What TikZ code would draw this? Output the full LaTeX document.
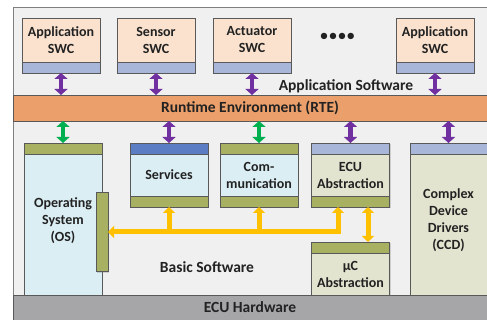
\documentclass[tikz,border=0pt]{standalone}
\usepackage{fontspec}
\setmainfont{Carlito}
\usepackage{tikz}
\usetikzlibrary{positioning,arrows.meta,shadows}
\definecolor{framebg}{HTML}{F0F0F0}
\definecolor{framegray}{HTML}{7F7F7F}
\definecolor{edge}{HTML}{595959}
\definecolor{txt}{HTML}{222222}
\definecolor{peach}{HTML}{FAE2CF}
\definecolor{swcblue}{HTML}{A8B6DA}
\definecolor{servblue}{HTML}{5B7DC4}
\definecolor{purp}{HTML}{7030A0}
\definecolor{rteorange}{HTML}{EBA06B}
\definecolor{grn}{HTML}{00B050}
\definecolor{lightblue}{HTML}{DBEEF4}
\definecolor{olive}{HTML}{A8B062}
\definecolor{lightolive}{HTML}{E3E4CF}
\definecolor{yel}{HTML}{FFC000}
\definecolor{hwgray}{HTML}{A6A6A9}
\tikzset{
lbl/.style={font=\bfseries\fontsize{14}{17}\selectfont,text=txt,align=center},
layerlbl/.style={font=\bfseries\fontsize{15.5}{18}\selectfont,text=txt,align=center},
box/.style={draw=edge,line width=0.6pt,outer sep=0pt,inner sep=1pt,lbl,drop shadow={shadow xshift=1.2pt,shadow yshift=-1.2pt,opacity=0.3}},
swcbox/.style={box,fill=peach,minimum width=78pt,minimum height=44pt},
swcbar/.style={box,fill=swcblue,minimum width=78pt,minimum height=11pt},
servbar/.style={box,fill=servblue,minimum width=78pt,minimum height=11pt},
olivebar/.style={box,fill=olive,minimum width=78pt,minimum height=11pt},
bswbody/.style={box,fill=lightblue,minimum width=78pt,minimum height=42pt},
ecubody/.style={box,fill=lightolive,minimum width=78pt,minimum height=42pt},
layerbar/.style={draw=edge,line width=0.6pt,outer sep=0pt,layerlbl,minimum width=474pt},
purparrow/.style={draw=purp,line width=4.5pt,{Triangle[length=6pt,width=13pt]}-{Triangle[length=6pt,width=13pt]}},
grnarrow/.style={purparrow,draw=grn},
yelarrow/.style={draw=yel,line width=5pt,-{Triangle[length=6pt,width=12pt]}}
}
\begin{document}
\begin{tikzpicture}[x=1pt,y=-1pt]
\useasboundingbox (0,0) rectangle (487,320);
\fill[framebg] (13,7) rectangle (487,295);
\draw[framegray,line width=0.8pt] (487,7) -- (13,7) -- (13,320);
% layers
\node[layerbar,fill=rteorange,minimum height=26pt] (rte) at (250,108) {Runtime Environment (RTE)};
\node[layerbar,fill=hwgray,minimum height=25pt] (hw) at (250,307.5) {ECU Hardware};
% application software
\foreach \n/\x/\t in {1/61/Application,2/156/Sensor,3/252/Actuator,4/435/Application}{
\node[swcbox] (swc\n) at (\x,40) {\t\\SWC};
\node[swcbar,below=0pt of swc\n] (swcbar\n) {};
\draw[purparrow] (swcbar\n.south) -- (swcbar\n.south |- rte.north);
}
\node[lbl,font=\fontsize{18}{18}\selectfont] (dots) at (337.5,37) {••••};
\node[layerlbl] (appsw) at (346,86) {Application Software};
% basic software
\node[olivebar] (ostop) at (63,148.5) {};
\node[bswbody,below=0pt of ostop,minimum height=141pt,text depth=10pt] (os) {Operating\\System\\(OS)};
\node[olivebar,minimum width=12pt,minimum height=79pt] (osbar) at (102,232) {};
\node[servbar] (servtop) at (169,148.5) {};
\node[bswbody,below=0pt of servtop] (serv) {Services};
\node[olivebar,below=0pt of serv] (servbot) {};
\node[olivebar] (comtop) at (259,148.5) {};
\node[bswbody,below=0pt of comtop] (com) {Com-\\munication};
\node[olivebar,below=0pt of com] (combot) {};
\node[swcbar] (ecutop) at (350.5,148.5) {};
\node[ecubody,below=0pt of ecutop] (ecu) {ECU\\Abstraction};
\node[olivebar,below=0pt of ecu] (ecubot) {};
\node[swcbar,minimum width=77pt] (ccdtop) at (448.5,148.5) {};
\node[ecubody,minimum width=77pt,minimum height=141pt,below=0pt of ccdtop,text depth=10pt] (ccd) {Complex\\Device\\Drivers\\(CCD)};
\node[olivebar] (muctop) at (350.5,247.5) {};
\node[ecubody,below=0pt of muctop] (muc) {µC\\Abstraction};
\node[layerlbl] (bsw) at (207,267) {Basic Software};
% rte links
\foreach \b/\s in {ostop/grnarrow,servtop/purparrow,comtop/grnarrow,ecutop/purparrow,ccdtop/purparrow}
\draw[\s] (rte.south -| \b.north) -- (\b.north);
% internal links
\draw[yelarrow,{Triangle[length=6pt,width=12pt]}-{Triangle[length=6pt,width=12pt]}] ([xshift=-12.5pt]ecubot.south) |- (osbar.east);
\foreach \b in {servbot,combot}
\draw[yelarrow] (\b.south |- osbar.east) -- (\b.south);
\draw[yelarrow,{Triangle[length=6pt,width=12pt]}-{Triangle[length=6pt,width=12pt]}] ([xshift=17.5pt]ecubot.south) -- ([xshift=17.5pt]muctop.north);
\end{tikzpicture}
\end{document}
